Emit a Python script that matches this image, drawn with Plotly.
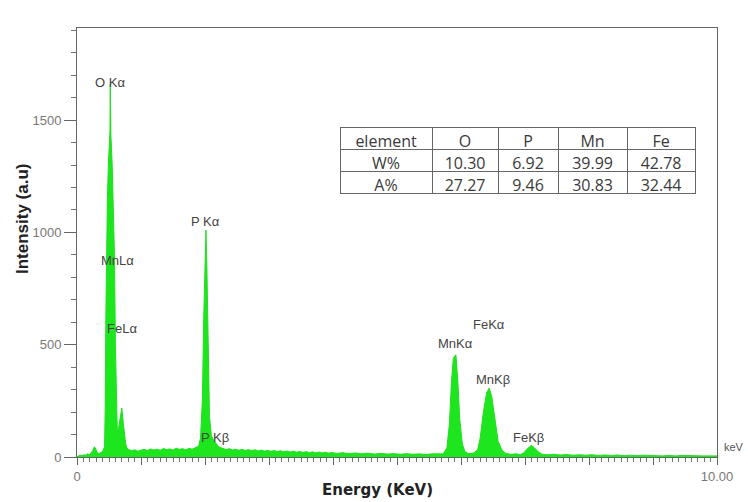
import plotly.graph_objects as go

# EDS spectrum: energy (keV) and detector counts
energy_kev = [
    0.00, 0.02, 0.05, 0.08, 0.10, 0.13, 0.16, 0.19, 0.22, 0.25, 0.27, 0.29, 0.31, 0.34, 0.37, 0.40,
    0.43, 0.44, 0.45, 0.46, 0.475, 0.49, 0.505, 0.515, 0.52, 0.53, 0.55, 0.57, 0.585, 0.60, 0.615,
    0.63, 0.65, 0.67, 0.69, 0.70, 0.72, 0.74, 0.76, 0.78,
    0.80, 0.85, 0.90, 0.95, 1.00, 1.05, 1.10, 1.15, 1.20, 1.25, 1.30, 1.35, 1.40, 1.45, 1.50,
    1.55, 1.60, 1.65, 1.70, 1.75, 1.80, 1.85,
    1.90, 1.93, 1.96, 1.98, 2.00, 2.015, 2.03, 2.05, 2.07, 2.10, 2.14, 2.18, 2.22,
    2.28, 2.33, 2.38, 2.43, 2.48, 2.53, 2.58, 2.63, 2.68, 2.73, 2.78, 2.83, 2.88, 2.93, 2.98,
    3.03, 3.08, 3.13, 3.18, 3.23, 3.28, 3.33, 3.38, 3.43, 3.48, 3.53, 3.58, 3.63, 3.68, 3.73,
    3.78, 3.83, 3.88, 3.93, 3.98,
    4.05, 4.15, 4.25, 4.35, 4.45, 4.55, 4.65, 4.75, 4.85, 4.95, 5.05, 5.15, 5.25, 5.35, 5.45,
    5.55, 5.65, 5.72,
    5.78, 5.82, 5.85, 5.88, 5.92, 5.95, 5.98, 6.02, 6.06, 6.12, 6.20,
    6.26, 6.30, 6.35, 6.40, 6.44, 6.48, 6.53, 6.58, 6.64, 6.70, 6.78, 6.86, 6.93,
    6.98, 7.03, 7.08, 7.10, 7.15, 7.21, 7.27,
    7.35, 7.45, 7.55, 7.65, 7.75, 7.85, 7.95, 8.05, 8.15, 8.25, 8.35, 8.45, 8.55, 8.65, 8.75,
    8.85, 8.95, 9.05, 9.15, 9.25, 9.35, 9.45, 9.55, 9.65, 9.75, 9.85, 9.95, 10.00,
]
counts = [
    0, 5, 8, 6, 10, 8, 14, 10, 18, 30, 45, 40, 22, 15, 20, 25,
    45, 200, 600, 950, 1150, 1300, 1400, 1450, 1660, 1430, 1300, 1100, 900, 500, 180,
    110, 130, 170, 205, 218, 160, 110, 60, 40,
    35, 28, 32, 26, 30, 34, 29, 36, 31, 35, 30, 38, 33, 36, 31,
    39, 34, 37, 32, 38, 35, 40,
    48, 85, 260, 620, 910, 1010, 840, 440, 180, 95, 72, 58, 44,
    38, 33, 37, 31, 35, 30, 34, 29, 33, 28, 32, 27, 31, 26, 30,
    25, 29, 24, 28, 23, 27, 22, 26, 21, 25, 20, 24, 19, 23, 18,
    22, 18, 21, 17, 20,
    16, 19, 15, 18, 14, 17, 13, 16, 13, 15, 12, 15, 12, 14, 11,
    14, 12, 14,
    40, 150, 330, 440, 455, 340, 170, 60, 25, 15, 18,
    32, 85, 200, 285, 307, 270, 160, 70, 30, 16, 12, 14, 11,
    18, 35, 50, 52, 40, 22, 12,
    10, 12, 9, 11, 8, 10, 8, 10, 7, 9, 7, 9, 6, 8, 6,
    8, 6, 7, 5, 7, 5, 7, 5, 6, 5, 6, 5, 5,
]

# Peak labels and where they sit (energy, counts)
peak_labels = ["O Kα", "MnLα", "FeLα", "P Kα", "P Kβ", "MnKα", "FeKα", "MnKβ", "FeKβ"]
label_energy = [0.52, 0.63, 0.70, 2.01, 2.15, 5.91, 6.44, 6.50, 7.06]
label_counts = [1669, 877, 570, 1050, 85, 507, 592, 347, 89]

# Axis ticks
x_tick_vals = list(range(0, 11))
x_tick_text = ["0"] + [""] * 9 + ["10.00"]
y_tick_vals = [0, 500, 1000, 1500]

# Composition table
table_header = ["element", "O", "P", "Mn", "Fe"]
table_rows = [
    ["W%", "10.30", "6.92", "39.99", "42.78"],
    ["A%", "27.27", "9.46", "30.83", "32.44"],
]

fig = go.Figure()

fig.add_trace(go.Scatter(
    x=energy_kev, y=counts, mode="lines",
    line=dict(color="#1ee01e", width=1),
    fill="tozeroy", fillcolor="#1ee61e",
    hoverinfo="skip", showlegend=False,
))

table_font = dict(family="Open Sans", size=16, color="#3a3a3a")
fig.add_trace(go.Table(
    domain=dict(x=[0.411, 0.966], y=[0.600, 0.769]),
    columnwidth=[92, 66, 60, 69, 68],
    header=dict(values=table_header, height=22, align="center",
                line=dict(color="#666", width=1), fill=dict(color="white"),
                font=table_font),
    cells=dict(values=[[r[i] for r in table_rows] for i in range(len(table_header))],
               height=22, align="center",
               line=dict(color="#666", width=1), fill=dict(color="white"),
               font=table_font),
))

for txt, ex, cy in zip(peak_labels, label_energy, label_counts):
    fig.add_annotation(x=ex, y=cy, text=txt, showarrow=False, xref="x", yref="y",
                       font=dict(family="Liberation Sans", size=13, color="#444"))

fig.add_annotation(xref="paper", yref="paper", x=1.008, y=0.023,
                   xanchor="left", yanchor="middle",
                   text="keV", showarrow=False,
                   font=dict(family="Liberation Sans", size=11, color="#555"))
fig.add_annotation(xref="paper", yref="paper", x=0.469, y=-0.077,
                   xanchor="center", yanchor="middle",
                   text="<b>Energy (KeV)</b>", showarrow=False,
                   font=dict(family="DejaVu Sans", size=15, color="#222"))
fig.add_annotation(xref="paper", yref="paper", x=-0.086, y=0.557, textangle=-90,
                   xanchor="center", yanchor="middle",
                   text="<b>Intensity (a.u)</b>", showarrow=False,
                   font=dict(family="Liberation Sans", size=17, color="#222"))

fig.update_xaxes(
    range=[0, 10], tickvals=x_tick_vals, ticktext=x_tick_text,
    ticks="outside", ticklen=7, tickcolor="#666", tickwidth=1,
    minor=dict(dtick=0.1, ticks="outside", ticklen=4, tickcolor="#777"),
    showline=True, linecolor="#666", linewidth=1, mirror=True,
    showgrid=False, zeroline=False,
    tickfont=dict(family="Liberation Sans", size=13, color="#777"),
)
fig.update_yaxes(
    range=[0, 1910], tickvals=y_tick_vals,
    ticks="outside", ticklen=12, tickcolor="#666", tickwidth=1,
    minor=dict(dtick=100, ticks="outside", ticklen=5, tickcolor="#777"),
    showline=True, linecolor="#666", linewidth=1, mirror=True,
    showgrid=False, zeroline=False,
    tickfont=dict(family="Liberation Sans", size=13, color="#777"),
)

fig.update_layout(
    width=748, height=502,
    margin=dict(l=77, r=31, t=28, b=45),
    paper_bgcolor="white", plot_bgcolor="white",
    showlegend=False,
)

fig.write_html("out.html")
